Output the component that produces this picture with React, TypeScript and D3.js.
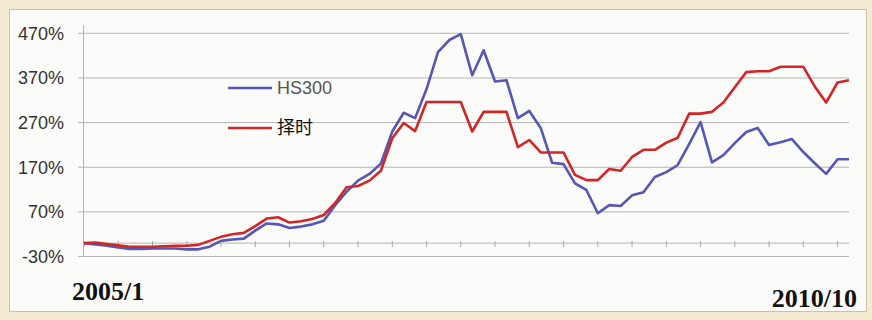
import React from "react";
import * as d3 from "d3";

// Cumulative return (%) of the index and of the timing strategy, one point per period
const hs300 = [
  0, -3, -6, -10, -13, -13, -12, -12, -12, -14, -14, -8, 5, 8, 10, 28, 44, 42, 34, 37,
  42, 50, 85, 115, 140, 155, 178, 250, 292, 280, 345, 428, 455, 468, 376, 432, 362, 365, 280, 296,
  258, 180, 177, 134, 119, 67, 85, 83, 107, 114, 148, 159, 175, 222, 271, 181, 197, 224, 249, 258,
  220, 226, 233, 204, 179, 155, 188, 188,
];
const timing = [
  0, 1, -2, -5, -8, -8, -8, -7, -6, -6, -4, 5, 14, 20, 23, 38, 55, 58, 46, 49,
  54, 63, 90, 125, 128, 140, 162, 235, 269, 251, 316, 316, 316, 316, 250, 294, 294, 294, 215, 231,
  203, 203, 203, 153, 141, 141, 166, 162, 193, 209, 209, 225, 236, 290, 290, 294, 315, 349, 383, 385,
  385, 395, 395, 395, 351, 315, 360, 365,
];
const seriesNames = ["HS300", "择时"];
const yTicks = [-30, 70, 170, 270, 370, 470];
const xEndLabels = ["2005/1", "2010/10"];
const tickEvery = 3;

const W = 872;
const H = 320;
const plot = { left: 84, right: 849, top: 33.3, bottom: 256.5 };
const BLUE = "#5656b4";
const RED = "#d22626";

export default function App() {
  const n = hs300.length;
  const x = d3.scaleLinear().domain([0, n - 1]).range([plot.left, plot.right]);
  const y = d3.scaleLinear().domain([-30, 470]).range([plot.bottom, plot.top]);
  const line = d3
    .line<number>()
    .x((_, i) => x(i))
    .y((d) => y(d));
  const y0 = y(0);
  const ticks = d3.range(0, n, tickEvery);

  return (
    <div style={{ position: "fixed", left: 0, top: 0 }}>
      <svg width={W} height={H} style={{ display: "block" }}>
        <rect x={0} y={0} width={W} height={H} fill="#f4ebd3" />
        <rect x={9.5} y={9.5} width={857} height={302} fill="#fbfbfa" stroke="#cdbf9f" strokeWidth={1} />

        {/* horizontal gridlines */}
        {yTicks.map((t) => (
          <line key={t} x1={plot.left - 6} x2={plot.right} y1={y(t)} y2={y(t)} stroke="#b4b4b4" strokeWidth={1} />
        ))}
        {/* value axis */}
        <line x1={plot.left - 0.5} x2={plot.left - 0.5} y1={plot.top - 8} y2={plot.bottom} stroke="#b4b4b4" strokeWidth={1} />
        {/* category axis at zero */}
        <line x1={plot.left} x2={plot.right} y1={y0} y2={y0} stroke="#b4b4b4" strokeWidth={1} />
        {ticks.map((i) => (
          <line key={i} x1={x(i)} x2={x(i)} y1={y0 - 2} y2={y0 + 4} stroke="#a8a8a8" strokeWidth={1} />
        ))}

        {yTicks.map((t) => (
          <text
            key={t}
            x={64}
            y={y(t)}
            dy="0.36em"
            textAnchor="end"
            fontFamily="Liberation Sans, Arial, sans-serif"
            fontSize={18}
            fill="#333"
          >
            {t}%
          </text>
        ))}

        <path d={line(hs300) ?? ""} fill="none" stroke={BLUE} strokeWidth={2.6} strokeLinejoin="round" />
        <path d={line(timing) ?? ""} fill="none" stroke={RED} strokeWidth={2.6} strokeLinejoin="round" />

        {/* legend */}
        <line x1={228} x2={272} y1={88} y2={88} stroke={BLUE} strokeWidth={2.6} />
        <text x={277} y={88} dy="0.36em" fontFamily="Liberation Sans, Arial, sans-serif" fontSize={18} fill="#555">
          {seriesNames[0]}
        </text>
        <line x1={228} x2={272} y1={128} y2={128} stroke={RED} strokeWidth={2.6} />
        <text x={277} y={128} dy="0.36em" fontFamily="Noto Sans CJK SC, sans-serif" fontSize={18} fill="#111">
          {seriesNames[1]}
        </text>

        <text x={72} y={300} fontFamily="Liberation Serif, Times New Roman, serif" fontWeight="bold" fontSize={26} fill="#111">
          {xEndLabels[0]}
        </text>
        <text x={857} y={307} textAnchor="end" fontFamily="Liberation Serif, Times New Roman, serif" fontWeight="bold" fontSize={26} fill="#111">
          {xEndLabels[1]}
        </text>
      </svg>
    </div>
  );
}
